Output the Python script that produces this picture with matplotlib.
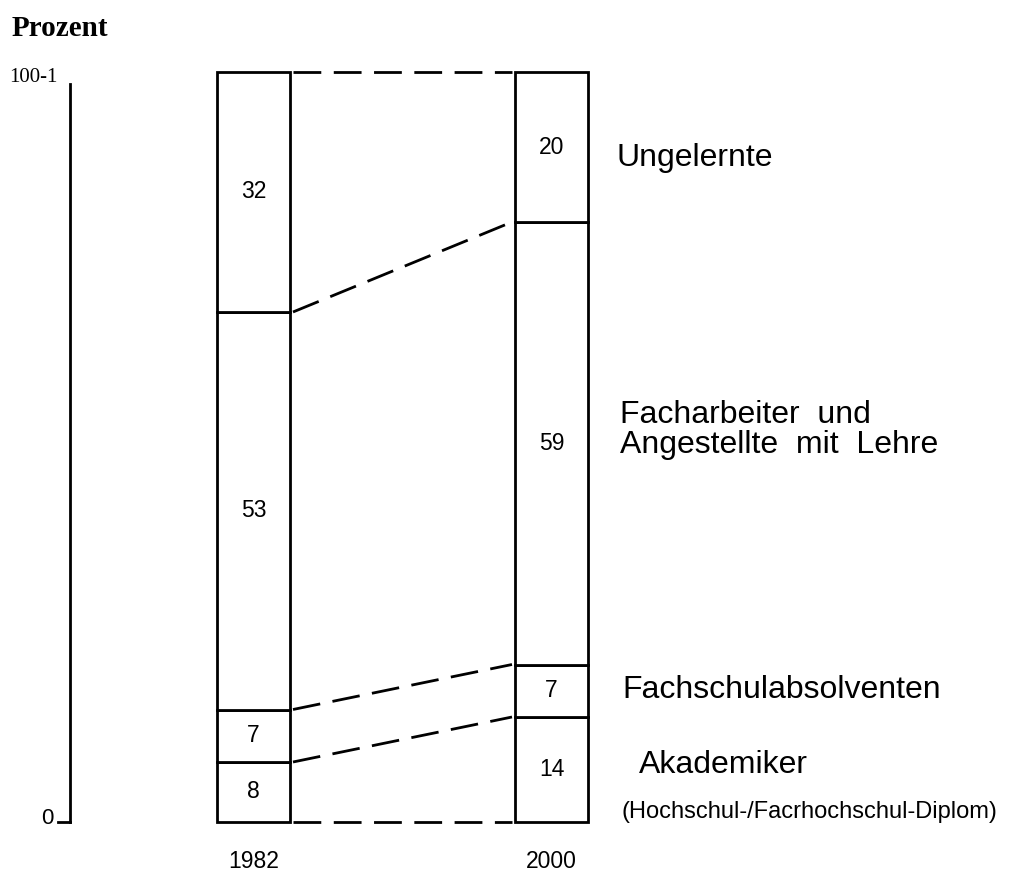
import matplotlib
matplotlib.use("Agg")
import matplotlib.pyplot as plt
import numpy as np

years = ["1982", "2000"]
categories = ["Akademiker", "Fachschulabsolventen", "Facharbeiter  und\nAngestellte  mit  Lehre", "Ungelernte"]
values_1982 = [8, 7, 53, 32]
values_2000 = [14, 7, 59, 20]
note = "(Hochschul-/Facrhochschul-Diplom)"

W, H = 1031, 874
fig = plt.figure(figsize=(W / 100, H / 100), dpi=100)
ax = fig.add_axes([0, 0, 1, 1])
# pixel mapping: percent 0 -> y=822 px, 100 -> y=72 px ; x center 0 -> 253.5 px, 1 -> 551.5 px
ppu_y = 7.5
ax.set_ylim((822 - H) / ppu_y, 822 / ppu_y)
ppu_x = 298
ax.set_xlim(-253.5 / ppu_x, (W - 253.5) / ppu_x)
ax.axis("off")


def px(x):
    return (x - 253.5) / ppu_x


def py(y):
    return (822 - y) / ppu_y


bw = 73 / ppu_x
lw = 2.0
sans = ["Liberation Sans", "DejaVu Sans"]
serif = ["Liberation Serif", "DejaVu Serif"]

all_vals = [values_1982, values_2000]
bounds = []
for i, vals in enumerate(all_vals):
    cum = np.concatenate([[0], np.cumsum(vals)])
    bounds.append(cum)
    ax.bar([i] * len(vals), vals, bottom=cum[:-1], width=bw, color="white",
           edgecolor="black", linewidth=lw, zorder=2)
    for v, b in zip(vals, cum[:-1]):
        ax.text(i, b + v / 2, str(v), ha="center", va="center", fontsize=16.5,
                family=sans, zorder=3)
    ax.text(i, py(862), years[i], ha="center", va="center", fontsize=16.5, family=sans)

# dashed connectors
x0 = 0 + bw / 2 + 3 / ppu_x
x1 = 1 - bw / 2 - 3 / ppu_x
for b0, b1 in zip(bounds[0], bounds[1]):
    ax.plot([x0, x1], [b0, b1], color="black", lw=lw, ls=(0, (10, 4.5)), zorder=1)

# y axis line
xa = px(70)
ax.plot([xa, xa], [0, py(84)], color="black", lw=2)
ax.plot([px(58), xa], [0, 0], color="black", lw=2)
ax.text(px(47), py(818), "0", ha="center", va="center", fontsize=16, family=sans)
ax.text(px(9), py(77), "100-1", ha="left", va="center", fontsize=15, family=serif)
ax.text(px(12), py(28), "Prozent", ha="left", va="center",
        fontsize=21, family=serif, fontweight="bold")

# category labels
label_pos = [(639, 765, categories[0]), (622, 690, categories[1]),
             (620, 430, categories[2]), (617, 158, categories[3])]
for x, y, t in label_pos:
    ax.text(px(x), py(y), t, ha="left", va="center",
            fontsize=23, family=sans, linespacing=1.0)
ax.text(px(622), py(812), note, ha="left", va="center", fontsize=17, family=sans)

fig.savefig("out.png", dpi=100, facecolor="white")
